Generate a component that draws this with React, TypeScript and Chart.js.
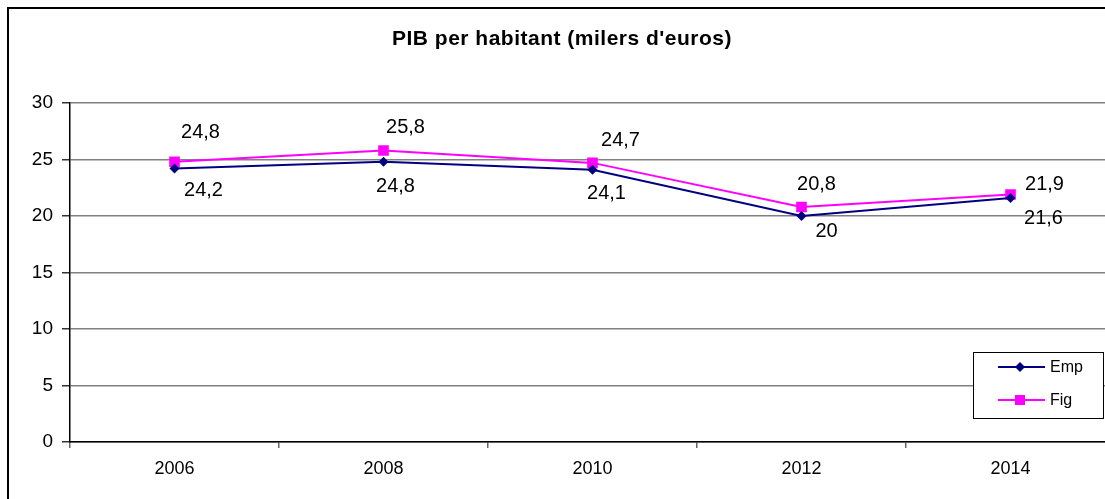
import React, { useEffect, useRef } from 'react';
import { Chart, registerables } from 'chart.js';

Chart.register(...registerables);

const TITLE = "PIB per habitant (milers d'euros)";
const YEARS = ['2006', '2008', '2010', '2012', '2014'];
const EMP = [24.2, 24.8, 24.1, 20, 21.6];
const FIG = [24.8, 25.8, 24.7, 20.8, 21.9];
const SERIES_NAMES = ['Emp', 'Fig'];
const Y_MIN = 0;
const Y_MAX = 30;
const Y_STEP = 5;

// label offsets (px) relative to each point, as placed in the original
const EMP_LABEL_DX = [29, 12, 14, 25, 33];
const EMP_LABEL_DY = [21, 24, 23, 14, 20];
const FIG_LABEL_DX = [26, 22, 28, 15, 34];
const FIG_LABEL_DY = [-30, -24, -23, -23, -11];

const FONT = '"Liberation Sans", Arial, Helvetica, sans-serif';
const EMP_COLOR = '#000080';
const FIG_COLOR = '#FF00FF';

const fmt = (v: number) => String(v).replace('.', ',');

const framePlugin = {
  id: 'frame',
  beforeDraw(chart: any) {
    const ctx = chart.ctx;
    ctx.save();
    ctx.fillStyle = '#ffffff';
    ctx.fillRect(0, 0, chart.width, chart.height);
    ctx.strokeStyle = '#000000';
    ctx.lineWidth = 2;
    ctx.strokeRect(8, 8, 3000, 3000);
    ctx.restore();
  },
};

const titlePlugin = {
  id: 'customTitle',
  afterDraw(chart: any) {
    const ctx = chart.ctx;
    ctx.save();
    ctx.font = `bold 21px ${FONT}`;
    try { (ctx as any).letterSpacing = '0.5px'; } catch (e) {}
    ctx.fillStyle = '#000';
    ctx.textAlign = 'center';
    ctx.textBaseline = 'middle';
    ctx.fillText(TITLE, 562, 39);
    ctx.restore();
  },
};

const labelsPlugin = {
  id: 'pointLabels',
  afterDatasetsDraw(chart: any) {
    const ctx = chart.ctx;
    const offsets = [
      [EMP_LABEL_DX, EMP_LABEL_DY],
      [FIG_LABEL_DX, FIG_LABEL_DY],
    ];
    ctx.save();
    ctx.font = `20px ${FONT}`;
    ctx.fillStyle = '#000';
    ctx.textAlign = 'center';
    ctx.textBaseline = 'middle';
    chart.data.datasets.forEach((ds: any, di: number) => {
      const meta = chart.getDatasetMeta(di);
      meta.data.forEach((pt: any, i: number) => {
        const [dx, dy] = offsets[di];
        ctx.fillText(fmt(ds.data[i]), pt.x + dx[i], pt.y + dy[i] + 1);
      });
    });
    ctx.restore();
  },
};

const legendPlugin = {
  id: 'boxLegend',
  afterDraw(chart: any) {
    const ctx = chart.ctx;
    const x0 = 973.5, y0 = 352.5, w = 130, h = 66;
    ctx.save();
    ctx.fillStyle = '#fff';
    ctx.fillRect(x0, y0, w, h);
    ctx.strokeStyle = '#000';
    ctx.lineWidth = 1;
    ctx.strokeRect(x0, y0, w, h);
    const rows = [
      { name: SERIES_NAMES[0], color: EMP_COLOR, y: 367, shape: 'diamond' },
      { name: SERIES_NAMES[1], color: FIG_COLOR, y: 400, shape: 'square' },
    ];
    rows.forEach((r) => {
      ctx.strokeStyle = r.color;
      ctx.lineWidth = 2;
      ctx.beginPath();
      ctx.moveTo(998, r.y);
      ctx.lineTo(1045, r.y);
      ctx.stroke();
      ctx.fillStyle = r.color;
      ctx.beginPath();
      if (r.shape === 'diamond') {
        ctx.moveTo(1020, r.y - 5);
        ctx.lineTo(1025, r.y);
        ctx.lineTo(1020, r.y + 5);
        ctx.lineTo(1015, r.y);
        ctx.closePath();
        ctx.fill();
      } else {
        ctx.fillRect(1015, r.y - 5, 10, 10);
      }
      ctx.fillStyle = '#000';
      ctx.font = `16px ${FONT}`;
      ctx.textAlign = 'left';
      ctx.textBaseline = 'middle';
      ctx.fillText(r.name, 1050, r.y + 1);
    });
    ctx.restore();
  },
};

export default function App() {
  const ref = useRef<HTMLCanvasElement | null>(null);

  useEffect(() => {
    if (!ref.current) return;
    const chart = new Chart(ref.current, {
      type: 'line',
      data: {
        labels: YEARS,
        datasets: [
          {
            label: SERIES_NAMES[0],
            data: EMP,
            borderColor: EMP_COLOR,
            backgroundColor: EMP_COLOR,
            borderWidth: 2,
            pointStyle: 'rectRot',
            pointRadius: 5,
            pointBorderWidth: 0,
            tension: 0,
          },
          {
            label: SERIES_NAMES[1],
            data: FIG,
            borderColor: FIG_COLOR,
            backgroundColor: FIG_COLOR,
            borderWidth: 2,
            pointStyle: 'rect',
            pointRadius: 7.5,
            pointBorderWidth: 0,
            tension: 0,
          },
        ],
      },
      plugins: [framePlugin, labelsPlugin, legendPlugin, titlePlugin],
      options: {
        responsive: false,
        maintainAspectRatio: false,
        animation: false,
        devicePixelRatio: 1,
        layout: { padding: { top: 103, right: 20, left: 0, bottom: 0 } },
        plugins: {
          legend: { display: false },
          title: { display: false },
          tooltip: { enabled: false },
        },
        scales: {
          x: {
            type: 'category',
            offset: true,
            grid: {
              offset: true,
              drawOnChartArea: false,
              drawTicks: true,
              tickLength: 6,
              tickColor: '#666',
              lineWidth: 1.5,
            },
            border: { display: true, color: '#000', width: 1.5 },
            ticks: {
              color: '#000',
              font: { family: FONT, size: 18 },
              padding: 10,
              maxRotation: 0,
            },
            afterFit: (scale: any) => {
              scale.height = 57;
            },
          },
          y: {
            min: Y_MIN,
            max: Y_MAX,
            ticks: {
              stepSize: Y_STEP,
              color: '#000',
              font: { family: FONT, size: 19 },
              padding: 9,
            },
            grid: {
              color: '#808080',
              lineWidth: 1.5,
              tickLength: 8,
              tickColor: '#333',
              drawTicks: true,
            },
            border: { display: true, color: '#000', width: 1.5 },
            afterFit: (scale: any) => {
              scale.width = 70;
            },
          },
        },
      },
    });
    return () => chart.destroy();
  }, []);

  return (
    <div
      style={{
        position: 'fixed',
        left: 0,
        top: 0,
        width: 1105,
        height: 499,
        overflow: 'hidden',
        background: '#fff',
      }}
    >
      <canvas
        ref={ref}
        width={1135}
        height={499}
        style={{ display: 'block', width: 1135, height: 499 }}
      />
    </div>
  );
}
